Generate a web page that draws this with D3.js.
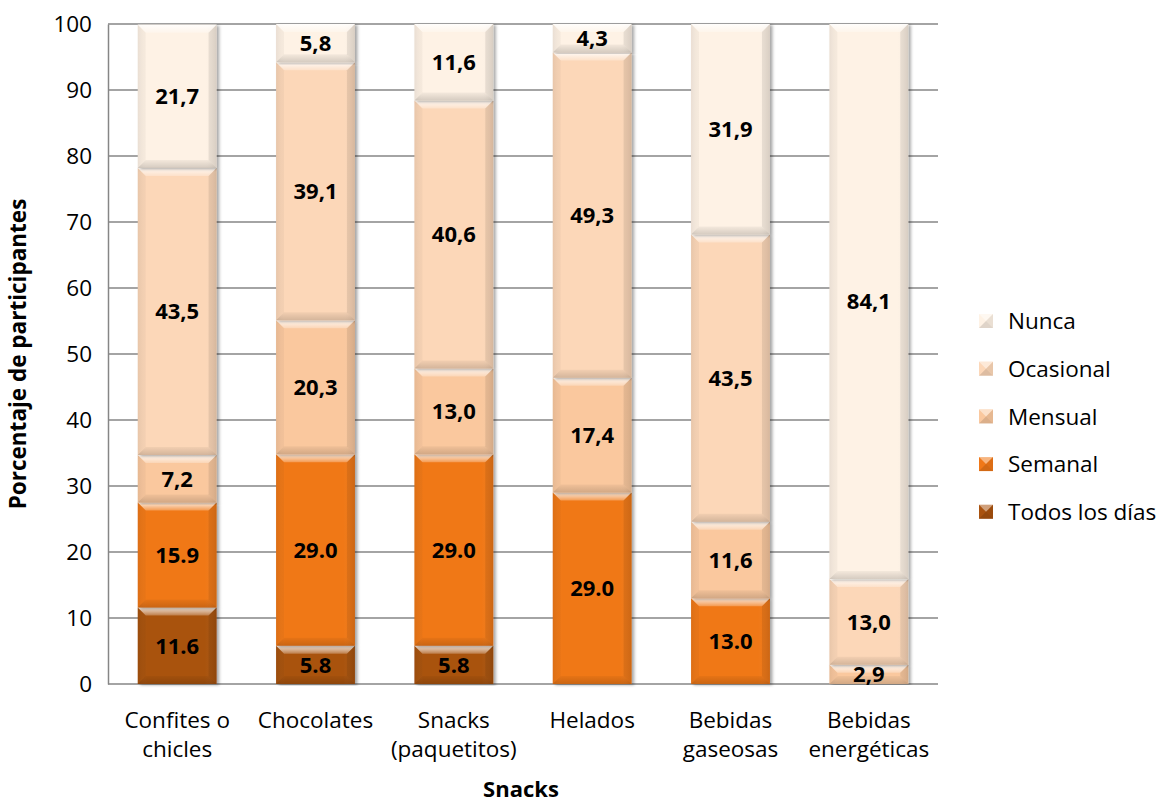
<!DOCTYPE html>
<html>
<head>
<meta charset="utf-8">
<script src="https://cdn.jsdelivr.net/npm/d3@7"></script>
<style>
  html, body { margin: 0; padding: 0; background: #ffffff; }
  svg { display: block; }
  text { font-family: "Open Sans", "Noto Sans", sans-serif; }
</style>
</head>
<body>
<svg id="chart" width="1161" height="802"></svg>
<script>
// Snack categories (x axis), two-line labels
const categories = ["Confites o chicles", "Chocolates", "Snacks (paquetitos)", "Helados", "Bebidas gaseosas", "Bebidas energéticas"];
const categoryLines = [["Confites o", "chicles"], ["Chocolates"], ["Snacks", "(paquetitos)"], ["Helados"], ["Bebidas", "gaseosas"], ["Bebidas", "energéticas"]];

// Frequency series, stacked bottom to top
const series = ["Todos los días", "Semanal", "Mensual", "Ocasional", "Nunca"];
const todosLosDias = [11.6, 5.8, 5.8, 0, 0, 0];
const semanal      = [15.9, 29.0, 29.0, 29.0, 13.0, 0];
const mensual      = [7.2, 20.3, 13.0, 17.4, 11.6, 2.9];
const ocasional    = [43.5, 39.1, 40.6, 49.3, 43.5, 13.0];
const nunca        = [21.7, 5.8, 11.6, 4.3, 31.9, 84.1];

// Label decimal marks as printed on each series
const decimalMark = { "Todos los días": ".", "Semanal": ".", "Mensual": ",", "Ocasional": ",", "Nunca": "," };

const yTicks = [0, 10, 20, 30, 40, 50, 60, 70, 80, 90, 100];
const colors = ["#a9520f", "#f07818", "#fac89e", "#fcd7b8", "#fef2e5"];

const values = [todosLosDias, semanal, mensual, ocasional, nunca];
const rows = categories.map((c, i) => {
  const r = { category: c };
  series.forEach((s, k) => { r[s] = values[k][i]; });
  return r;
});

const svg = d3.select("#chart");
const margin = { left: 108, right: 1161 - 938, top: 24, bottom: 802 - 684 };
const W = 1161, H = 802;
const FS = 22.5;

const x = d3.scaleBand().domain(categories).range([margin.left, W - margin.right]).paddingInner(0.43).paddingOuter(0.215);
const y = d3.scaleLinear().domain([0, 100]).range([H - margin.bottom, margin.top]);

const defs = svg.append("defs");
const shadow = defs.append("filter").attr("id", "shadow").attr("x", "-20%").attr("y", "-5%").attr("width", "140%").attr("height", "110%");
shadow.append("feDropShadow").attr("dx", 2.5).attr("dy", 1).attr("stdDeviation", 1.8).attr("flood-color", "#000").attr("flood-opacity", 0.35);

const topGrad = defs.append("linearGradient").attr("id", "topGrad").attr("x1", 0).attr("y1", 0).attr("x2", 0).attr("y2", 1);
topGrad.append("stop").attr("offset", "0%").attr("stop-color", "#fff").attr("stop-opacity", 0.85);
topGrad.append("stop").attr("offset", "100%").attr("stop-color", "#fff").attr("stop-opacity", 0.25);
const botGrad = defs.append("linearGradient").attr("id", "botGrad").attr("x1", 0).attr("y1", 0).attr("x2", 0).attr("y2", 1);
botGrad.append("stop").attr("offset", "0%").attr("stop-color", "#000").attr("stop-opacity", 0.04);
botGrad.append("stop").attr("offset", "100%").attr("stop-color", "#000").attr("stop-opacity", 0.16);
const bodyGrad = defs.append("linearGradient").attr("id", "bodyGrad").attr("x1", 0).attr("y1", 0).attr("x2", 1).attr("y2", 0);
bodyGrad.append("stop").attr("offset", "0%").attr("stop-color", "#000").attr("stop-opacity", 0.05);
bodyGrad.append("stop").attr("offset", "12%").attr("stop-color", "#fff").attr("stop-opacity", 0.0);
bodyGrad.append("stop").attr("offset", "85%").attr("stop-color", "#fff").attr("stop-opacity", 0.0);
bodyGrad.append("stop").attr("offset", "100%").attr("stop-color", "#000").attr("stop-opacity", 0.08);

// Gridlines
svg.append("g").selectAll("line").data(yTicks).join("line")
  .attr("x1", margin.left).attr("x2", W - margin.right)
  .attr("y1", d => y(d)).attr("y2", d => y(d))
  .attr("stroke", "#868686").attr("stroke-width", 1.5);

// Y axis
const yAxis = svg.append("g").attr("transform", `translate(${margin.left},0)`)
  .call(d3.axisLeft(y).tickValues(yTicks).tickSize(0).tickPadding(16));
yAxis.select(".domain").attr("stroke", "#868686").attr("stroke-width", 1.5);
yAxis.selectAll("text").attr("font-size", FS).attr("fill", "#000");

// X axis labels
const xl = svg.append("g");
categories.forEach((c, i) => {
  const t = xl.append("text").attr("x", x(c) + x.bandwidth() / 2).attr("y", 728)
    .attr("text-anchor", "middle").attr("font-size", FS).attr("fill", "#000");
  categoryLines[i].forEach((ln, j) => {
    t.append("tspan").attr("x", x(c) + x.bandwidth() / 2).attr("dy", j === 0 ? 0 : 29).text(ln);
  });
});

// Stacked bars with bevelled segments
const stack = d3.stack().keys(series)(rows);
const bars = svg.append("g");
stack.forEach((layer, k) => {
  layer.forEach((d, i) => {
    const v = d[1] - d[0];
    if (v <= 0) return;
    const x0 = x(categories[i]), w = x.bandwidth();
    const yTop = y(d[1]), yBot = y(d[0]), h = yBot - yTop;
    const b = Math.min(8, h / 2.2);
    const g = bars.append("g");
    g.append("rect").attr("x", x0).attr("y", yTop).attr("width", w).attr("height", h)
      .attr("fill", colors[k]).attr("filter", "url(#shadow)");
    g.append("rect").attr("x", x0).attr("y", yTop).attr("width", w).attr("height", h)
      .attr("fill", "url(#bodyGrad)");
    g.append("polygon").attr("points", [[x0, yTop], [x0 + w, yTop], [x0 + w - b, yTop + b], [x0 + b, yTop + b]].join(" "))
      .attr("fill", "url(#topGrad)");
    g.append("polygon").attr("points", [[x0, yBot], [x0 + w, yBot], [x0 + w - b, yBot - b], [x0 + b, yBot - b]].join(" "))
      .attr("fill", "url(#botGrad)");
    g.append("polygon").attr("points", [[x0, yTop], [x0 + b, yTop + b], [x0 + b, yBot - b], [x0, yBot]].join(" "))
      .attr("fill", "#000").attr("fill-opacity", 0.03);
    g.append("polygon").attr("points", [[x0 + w, yTop], [x0 + w - b, yTop + b], [x0 + w - b, yBot - b], [x0 + w, yBot]].join(" "))
      .attr("fill", "#000").attr("fill-opacity", 0.08);
  });
});

// Value labels
const labels = svg.append("g");
stack.forEach((layer, k) => {
  layer.forEach((d, i) => {
    const v = d[1] - d[0];
    if (v <= 0) return;
    const txt = values[k][i].toFixed(1).replace(".", decimalMark[series[k]]);
    labels.append("text").attr("x", x(categories[i]) + x.bandwidth() / 2)
      .attr("y", (y(d[0]) + y(d[1])) / 2).attr("dy", "0.36em")
      .attr("text-anchor", "middle").attr("font-size", 22).attr("font-weight", "bold")
      .attr("fill", "#000").text(txt);
  });
});

// Axis titles
svg.append("text").attr("transform", `translate(26,${(y(0) + y(100)) / 2}) rotate(-90)`)
  .attr("text-anchor", "middle").attr("font-size", 22.5).attr("font-weight", "bold").text("Porcentaje de participantes");
svg.append("text").attr("x", (margin.left + W - margin.right) / 2 - 2).attr("y", 797)
  .attr("text-anchor", "middle").attr("font-size", 22).attr("font-weight", "bold").text("Snacks");

// Legend, top entry = top of stack
const legendOrder = series.slice().reverse();
const lg = svg.append("g");
legendOrder.forEach((s, j) => {
  const k = series.indexOf(s);
  const cy = 321 + j * 47.7;
  const sx = 979, s2 = 14;
  const gg = lg.append("g");
  gg.append("rect").attr("x", sx).attr("y", cy - s2 / 2).attr("width", s2).attr("height", s2).attr("fill", colors[k]);
  gg.append("polygon").attr("points", [[sx, cy - s2 / 2], [sx + s2, cy - s2 / 2], [sx + s2 / 2, cy]].join(" ")).attr("fill", "#fff").attr("fill-opacity", 0.45);
  gg.append("polygon").attr("points", [[sx, cy + s2 / 2], [sx + s2, cy + s2 / 2], [sx + s2 / 2, cy]].join(" ")).attr("fill", "#000").attr("fill-opacity", 0.12);
  gg.append("polygon").attr("points", [[sx + s2, cy - s2 / 2], [sx + s2, cy + s2 / 2], [sx + s2 / 2, cy]].join(" ")).attr("fill", "#000").attr("fill-opacity", 0.08);
  lg.append("text").attr("x", 1008).attr("y", cy).attr("dy", "0.36em").attr("font-size", FS).attr("fill", "#000").text(s);
});
</script>
</body>
</html>
